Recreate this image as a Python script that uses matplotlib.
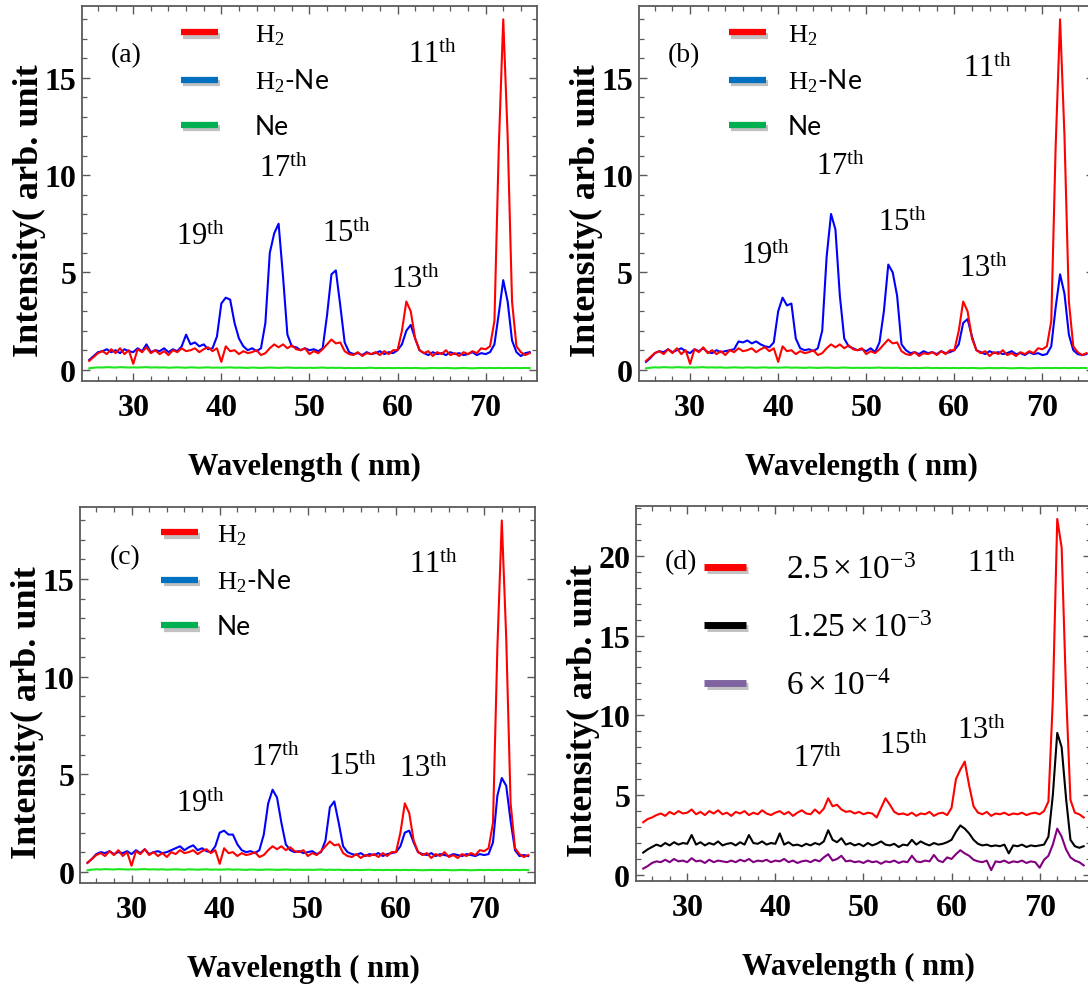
import numpy as np
import matplotlib
matplotlib.use("Agg")
import matplotlib.pyplot as plt
import matplotlib.patheffects as pe
from matplotlib.lines import Line2D
from matplotlib.ticker import MultipleLocator

plt.rcParams['font.family'] = 'Liberation Serif'
plt.rcParams['mathtext.fontset'] = 'custom'
plt.rcParams['mathtext.rm'] = 'Liberation Serif'
plt.rcParams['mathtext.it'] = 'Liberation Serif:italic'
plt.rcParams['mathtext.bf'] = 'Liberation Serif:bold'

# ---------- data (0.5 nm steps 25..75) ----------
wavelength = np.arange(25.0, 75.01, 0.5)

h2 = [0.45, 0.65, 0.85, 0.95, 0.8, 1.05, 0.85, 1.1, 0.8, 1.0,
      0.3, 1.05, 0.9, 1.15, 0.85, 1.0, 0.8, 0.95, 0.75, 1.0,
      0.9, 1.1, 0.95, 1.0, 1.1, 0.9, 1.05, 1.15, 0.95, 1.1,
      0.4, 1.2, 0.95, 1.0, 0.8, 0.95, 0.85, 0.9, 1.0, 0.75,
      0.85, 1.1, 1.3, 1.15, 1.3, 1.1, 1.25, 1.05, 1.0, 1.1,
      0.8, 0.95, 0.85, 1.05, 1.3, 1.55, 1.35, 1.4, 0.95, 0.8,
      0.75, 0.9, 0.7, 0.85, 0.8, 0.9, 0.75, 0.95, 0.8, 1.0,
      1.0, 2.0, 3.5, 3.0, 1.6, 1.0, 0.85, 0.95, 0.7, 0.9,
      0.8, 1.0, 0.75, 0.85, 0.7, 0.9, 0.8, 0.95, 0.85, 1.1,
      1.05, 1.2, 2.5, 11.5, 18.0, 12.0, 3.5, 1.2, 0.9, 0.75,
      0.85]

h2ne_a = [0.5, 0.7, 0.9, 0.95, 1.05, 0.9, 1.0, 0.85, 1.05, 0.95,
          0.9, 1.1, 0.95, 1.3, 0.9, 1.0, 0.95, 1.1, 0.9, 1.05,
          0.95, 1.2, 1.8, 1.3, 1.4, 1.2, 1.3, 1.05, 1.1, 1.7,
          3.4, 3.7, 3.6, 2.4, 1.6, 1.2, 1.0, 1.1, 0.95, 1.1,
          2.4, 6.0, 7.0, 7.5, 4.8, 1.8, 1.2, 1.15, 1.0, 1.1,
          1.0, 1.05, 0.95, 1.1, 2.8, 4.9, 5.1, 3.3, 1.4, 0.9,
          0.8, 0.85, 0.75, 0.9, 0.8, 0.85, 0.95, 0.8, 0.9, 0.85,
          1.0, 1.3, 2.0, 2.3, 1.6, 1.0, 0.85, 0.75, 0.9, 0.8,
          0.85, 0.75, 0.9, 0.8, 0.85, 0.75, 0.8, 0.9, 0.75, 0.85,
          0.8, 0.9, 1.3, 2.9, 4.6, 3.5, 1.5, 0.9, 0.7, 0.85,
          0.9]

h2ne_b = [0.4, 0.6, 0.85, 0.95, 0.9, 1.05, 0.9, 1.0, 1.1, 0.95,
          0.85, 1.05, 0.95, 1.1, 0.9, 0.85, 1.0, 0.9, 0.95, 1.0,
          1.05, 1.45, 1.4, 1.5, 1.35, 1.45, 1.3, 1.2, 1.15, 1.4,
          3.0, 3.7, 3.3, 3.4, 1.6, 1.1, 1.0, 1.05, 0.95, 1.1,
          2.0, 5.8, 8.0, 7.2, 3.8, 1.6, 1.2, 1.1, 1.0, 1.05,
          0.95, 1.1, 0.9, 1.4, 3.0, 5.4, 5.0, 3.8, 1.3, 1.0,
          0.85, 0.9, 0.8, 0.95, 0.85, 0.9, 0.8, 0.95, 0.85, 0.9,
          1.0, 1.3, 2.4, 2.6, 1.7, 1.0, 0.9, 0.8, 0.95, 0.85,
          0.9, 0.8, 0.85, 0.95, 0.8, 0.85, 0.75, 0.9, 0.8, 0.85,
          0.75, 0.8, 1.2, 3.2, 4.9, 3.9, 1.8, 1.0, 0.8, 0.75,
          0.8]

h2ne_c = [0.45, 0.65, 0.9, 1.0, 0.95, 1.05, 0.9, 1.0, 0.95, 1.05,
          0.9, 1.1, 0.95, 1.15, 0.9, 1.0, 1.05, 0.95, 1.0, 1.1,
          1.2, 1.3, 1.1, 1.25, 1.35, 1.1, 1.2, 1.05, 1.0, 1.3,
          2.0, 2.1, 1.9, 1.9, 1.4, 1.1, 1.0, 1.05, 0.95, 1.1,
          1.9, 3.5, 4.2, 3.8, 2.5, 1.4, 1.1, 1.0, 1.05, 0.95,
          1.0, 1.05, 0.9, 1.0, 1.6, 3.3, 3.6, 2.5, 1.3, 1.0,
          0.9, 0.85, 0.95, 0.8, 0.9, 0.85, 0.95, 0.8, 0.9, 0.95,
          1.0, 1.3, 2.0, 2.1, 1.5, 1.0, 0.9, 0.85, 0.95, 0.8,
          0.9, 0.85, 0.8, 0.9, 0.85, 0.8, 0.9, 0.85, 0.8, 0.9,
          0.85, 0.9, 1.5, 3.9, 4.8, 4.4, 2.6, 1.1, 0.8, 0.85,
          0.8]

ne = [0.07, 0.1, 0.12, 0.11, 0.13, 0.12, 0.11, 0.13, 0.12, 0.11,
      0.12, 0.11, 0.12, 0.13, 0.11, 0.12, 0.11, 0.12, 0.1, 0.11,
      0.12, 0.11, 0.1, 0.12, 0.11, 0.1, 0.11, 0.12, 0.1, 0.11,
      0.1, 0.11, 0.12, 0.1, 0.11, 0.1, 0.09, 0.11, 0.1, 0.09,
      0.1, 0.11, 0.1, 0.09, 0.1, 0.11, 0.1, 0.09, 0.1, 0.09,
      0.1, 0.09, 0.1, 0.11, 0.09, 0.1, 0.09, 0.1, 0.08, 0.09,
      0.08, 0.09, 0.08, 0.09, 0.1, 0.08, 0.09, 0.08, 0.09, 0.08,
      0.09, 0.08, 0.09, 0.08, 0.09, 0.08, 0.07, 0.08, 0.09, 0.08,
      0.08, 0.09, 0.08, 0.07, 0.08, 0.09, 0.08, 0.07, 0.08, 0.09,
      0.08, 0.09, 0.08, 0.09, 0.08, 0.09, 0.08, 0.09, 0.08, 0.09,
      0.08]

d_25e3 = [3.3, 3.5, 3.6, 3.75, 3.85, 3.7, 3.95, 3.8, 4.0, 3.85,
          3.9, 4.1, 3.8, 3.95, 3.75, 4.0, 3.85, 4.05, 3.8, 3.9,
          3.7, 3.95, 3.85, 4.0, 3.75, 3.9, 3.8, 4.05, 3.85, 3.75,
          3.9, 4.0, 3.8, 3.95, 3.7, 3.9, 4.05, 3.85, 3.8, 4.1,
          3.85, 4.15, 4.8, 4.3, 4.4, 4.1, 3.95, 4.0, 3.85, 3.95,
          3.8, 3.9, 3.85, 3.6, 4.2, 4.8, 4.4, 3.95, 3.8, 3.85,
          3.75, 3.9, 3.7, 3.85, 3.8, 3.95, 3.7, 3.85, 3.9, 3.75,
          4.2, 6.0, 6.6, 7.1, 5.6, 4.3, 3.9, 3.8, 3.95, 3.7,
          3.85, 3.8, 3.9, 3.75, 3.85, 3.8, 3.9, 3.75, 3.85, 3.9,
          3.8, 4.0, 4.6, 11.0, 22.3, 20.5, 11.5, 4.7, 3.9, 3.8,
          3.6]

d_125e3 = [1.4, 1.6, 1.75, 1.9, 1.8, 2.0, 1.85, 2.05, 1.9, 2.0,
           1.95, 2.5, 1.9, 2.05, 1.85, 2.0, 1.9, 2.1, 1.85, 1.95,
           2.0, 1.85, 2.05, 1.9, 2.5, 2.0, 1.95, 2.1, 1.9, 2.0,
           1.95, 2.6, 1.9, 2.05, 1.85, 1.9, 1.8, 1.95, 1.85, 2.0,
           1.9, 2.1, 2.8, 2.2, 2.05, 2.3, 1.9, 2.0, 1.85, 1.95,
           1.8, 2.0, 1.85, 1.95, 2.1, 1.9, 1.85, 1.95, 1.75, 1.9,
           1.85, 2.2, 1.9, 2.1, 1.95, 1.85, 2.0, 1.9, 1.95, 2.05,
           2.2, 2.7, 3.1, 2.9, 2.6, 2.2, 1.95, 1.85, 1.9, 1.8,
           1.85, 1.8, 1.9, 1.35, 1.85, 1.8, 1.9, 1.75, 1.85, 1.8,
           1.85, 1.9, 2.4, 5.0, 8.9, 8.0, 4.8, 2.2, 1.8, 1.7,
           1.8]

d_6e4 = [0.4, 0.55, 0.75, 0.85, 0.8, 0.95, 0.8, 1.0, 0.85, 0.9,
         0.8, 1.05, 0.85, 0.9, 0.75, 0.95, 0.8, 0.9, 0.85, 0.8,
         0.9, 0.8, 0.95, 0.85, 1.0, 0.8, 0.9, 0.85, 0.95, 0.8,
         0.9, 0.85, 1.0, 0.8, 0.9, 0.75, 0.85, 0.9, 0.8, 0.95,
         0.85, 1.1, 1.3, 0.9, 1.0, 1.2, 0.85, 0.9, 0.8, 0.85,
         0.75, 0.9, 0.8, 0.85, 0.7, 0.85, 0.8, 0.9, 0.75, 0.85,
         0.8, 1.2, 0.85, 0.8, 0.9, 0.85, 1.25, 0.9, 0.8, 1.1,
         1.0, 1.3, 1.55, 1.35, 1.2, 0.95, 0.85, 0.8, 0.9, 0.3,
         0.85, 0.8, 0.9, 0.75, 0.85, 0.8, 0.9, 0.75, 0.85, 0.8,
         0.45, 0.95, 1.2, 1.9, 2.9, 2.4, 1.6, 1.1, 0.9, 0.8,
         0.6]

# harmonic labels: (text, x, y) per panel
harm_a = [("11", 61.2, 15.8), ("17", 44.3, 9.95), ("19", 34.8, 6.45), ("15", 51.4, 6.6), ("13", 59.25, 4.25)]
harm_b = [("11", 60.95, 15.1), ("17", 44.25, 10.05), ("19", 35.8, 5.5), ("15", 51.3, 7.2), ("13", 60.55, 4.8)]
harm_c = [("11", 61.5, 15.35), ("17", 43.55, 5.45), ("19", 35.05, 3.1), ("15", 52.25, 5.0), ("13", 60.35, 4.9)]
harm_d = [("11", 61.8, 19.05), ("17", 42.05, 6.85), ("15", 51.8, 7.65), ("13", 60.65, 8.6)]

legend_abc = [r"$\mathrm{H}_2$", r"$\mathrm{H}_2$-Ne", "Ne"]
legend_d = [r"$2.5\times10^{-3}$", r"$1.25\times10^{-3}$", r"$6\times10^{-4}$"]

SPINE = '#5a5a5a'
LW = 1.5

fig = plt.figure(figsize=(10.88, 9.87), dpi=100)

def style_axes(ax, ylim, ymajor=5):
    ax.set_xlim(24.15, 75.8)
    ax.set_ylim(*ylim)
    ax.xaxis.set_major_locator(MultipleLocator(10))
    ax.xaxis.set_minor_locator(MultipleLocator(2))
    ax.yaxis.set_major_locator(MultipleLocator(ymajor))
    ax.yaxis.set_minor_locator(MultipleLocator(1))
    ax.tick_params(which='both', direction='in', top=True, right=True, color=SPINE)
    ax.tick_params(which='major', length=6, width=1.0)
    ax.tick_params(which='minor', length=3.5, width=0.9)
    ax.tick_params(axis='x', labelsize=23, pad=9)
    ax.tick_params(axis='y', labelsize=23, pad=4)
    for lab in ax.get_xticklabels() + ax.get_yticklabels():
        lab.set_fontweight('bold')
    for sp in ax.spines.values():
        sp.set_color(SPINE)
        sp.set_linewidth(1.3)
    ax.set_xlabel("Wavelength ( nm)", fontsize=22, fontweight='bold')
    ax.xaxis.set_label_coords(0.49, -0.19)
    ax.set_ylabel("Intensity( arb. unit", fontsize=26, fontweight='bold')
    ax.yaxis.set_label_coords(-0.079, 0.455)

def add_harmonics(ax, items):
    for num, x, y in items:
        ax.text(x, y, num + r"$^{\mathrm{th}}$", fontsize=22, ha='left', va='baseline')

def add_legend(ax, colors, labels, anchor, fs, hl, htp, ls, lw):
    handles = [Line2D([], [], color=c, lw=lw, solid_capstyle='butt') for c in colors]
    leg = ax.legend(handles, labels, loc='upper left', bbox_to_anchor=anchor,
                    frameon=False, borderpad=0, borderaxespad=0,
                    handlelength=hl, handletextpad=htp, labelspacing=ls,
                    prop={'family': 'Lato', 'size': fs})
    for h in leg.legend_handles:
        h.set_path_effects([pe.SimpleLineShadow(offset=(1.5, -2.5), shadow_color='#777777', alpha=0.45),
                            pe.Normal()])
    return leg

# panels a-c
abc = [
    ("(a)", [0.0751, 0.6133, 0.4182, 0.3799], h2ne_a, harm_a, (-0.565, 18.7), (0.218, 0.958), 1.4),
    ("(b)", [0.5869, 0.6133, 0.4182, 0.3799], h2ne_b, harm_b, (-0.565, 18.7), (0.198, 0.958), 0.85),
    ("(c)", [0.0735, 0.1044, 0.4185, 0.3807], h2ne_c, harm_c, (-0.58, 18.68), (0.179, 0.962), 0.7),
]
for tag, rect, blue, harm, ylim, anchor, htp in abc:
    ax = fig.add_axes(rect)
    ax.plot(wavelength, ne, color='#1ee61e', lw=LW)
    ax.plot(wavelength, blue, color='#0000ff', lw=LW)
    ax.plot(wavelength, h2, color='#ff0000', lw=LW)
    style_axes(ax, ylim)
    add_harmonics(ax, harm)
    ax.text(27.5, ylim[1] - 2.85, tag, fontsize=20, ha='left', va='baseline')
    add_legend(ax, ['#ff0000', '#0070c0', '#00b050'], legend_abc, anchor,
               fs=19, hl=1.4, htp=htp, ls=0.75, lw=4.5)

# panel d
ax = fig.add_axes([0.5843, 0.1067, 0.4182, 0.3799])
ax.plot(wavelength, d_6e4, color='#800080', lw=LW)
ax.plot(wavelength, d_125e3, color='#000000', lw=LW)
ax.plot(wavelength, d_25e3, color='#ff0000', lw=LW)
style_axes(ax, (-0.36, 23.13))
add_harmonics(ax, harm_d)
ax.text(27.5, 19.25, "(d)", fontsize=20, ha='left', va='baseline')
add_legend(ax, ['#ff0000', '#000000', '#8064a2'], legend_d, (0.151, 0.872),
           fs=24, hl=1.25, htp=1.2, ls=0.82, lw=5)

fig.savefig("out.png", dpi=100)
